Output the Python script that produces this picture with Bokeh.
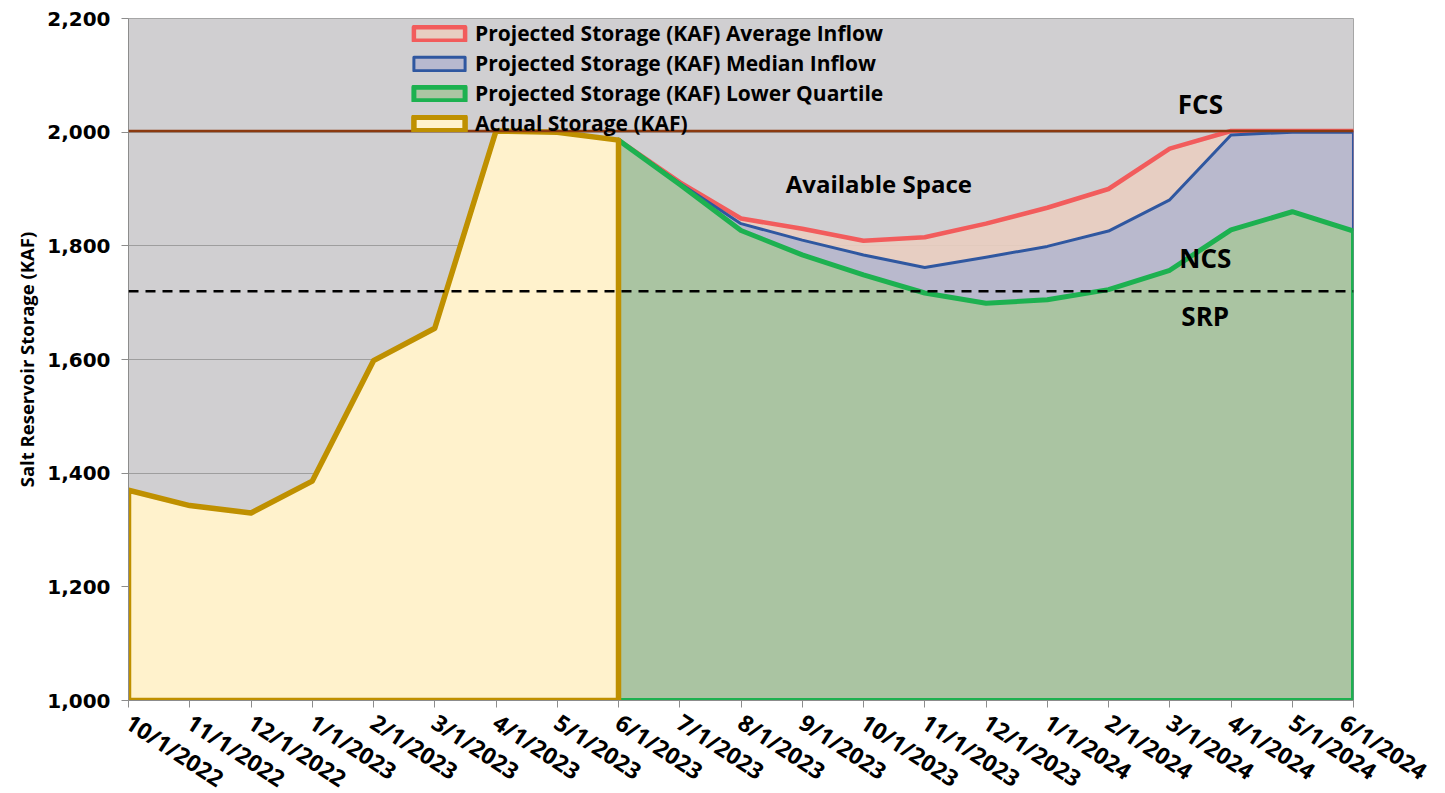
from bokeh.plotting import figure
from bokeh.models import (Range1d, FixedTicker, NumeralTickFormatter, Legend, LegendItem,
                          Span, Label)
from bokeh.embed import file_html
from bokeh.resources import INLINE

# ---------------- data ----------------
dates = ["10/1/2022", "11/1/2022", "12/1/2022", "1/1/2023", "2/1/2023", "3/1/2023",
         "4/1/2023", "5/1/2023", "6/1/2023", "7/1/2023", "8/1/2023", "9/1/2023",
         "10/1/2023", "11/1/2023", "12/1/2023", "1/1/2024", "2/1/2024", "3/1/2024",
         "4/1/2024", "5/1/2024", "6/1/2024"]

# Actual storage, 10/1/2022 .. 6/1/2023
actual_storage = [1370, 1343, 1330, 1386, 1598, 1655, 2002, 2000, 1986]
# Projections, 6/1/2023 .. 6/1/2024
proj_average = [1986, 1912, 1848, 1830, 1809, 1815, 1839, 1867, 1900, 1971, 2002, 2002, 2002]
proj_median = [1986, 1910, 1839, 1810, 1784, 1762, 1780, 1799, 1826, 1881, 1995, 2000, 2000]
proj_lower = [1986, 1908, 1827, 1784, 1749, 1717, 1699, 1705, 1723, 1757, 1828, 1860, 1826]

fcs_level = 2002
srp_level = 1720
y_ticks = [1000, 1200, 1400, 1600, 1800, 2000, 2200]
base = 1000

actual_x = list(range(0, len(actual_storage)))
proj_start = len(actual_storage) - 1
proj_x = list(range(proj_start, proj_start + len(proj_average)))

FONT = "Open Sans"

p = figure(frame_width=1225, frame_height=682, output_backend="svg", toolbar_location=None,
           x_range=Range1d(0, len(dates) - 1), y_range=Range1d(1000, 2200),
           min_border_left=128, min_border_top=18, min_border_right=80, min_border_bottom=80)
p.background_fill_color = "#D0CFD1"
p.border_fill_color = "white"
p.outline_line_color = "#A6A6A6"

p.xgrid.visible = False
p.ygrid.grid_line_color = "#9E9E9E"
p.ygrid.grid_line_width = 1
p.ygrid.ticker = FixedTicker(ticks=y_ticks)


def closed(xs, ys):
    return [xs[0]] + xs + [xs[-1]], [base] + ys + [base]


series = [
    ("Projected Storage (KAF) Average Inflow", proj_x, proj_average, "#E8CEC0", "#F25C5C", 4.5, 0.92),
    ("Projected Storage (KAF) Median Inflow", proj_x, proj_median, "#B5B7CE", "#2F57A0", 3.0, 0.92),
    ("Projected Storage (KAF) Lower Quartile", proj_x, proj_lower, "#A8C49E", "#1DB150", 5.0, 0.92),
    ("Actual Storage (KAF)", actual_x, actual_storage, "#FFF2CC", "#BF9000", 5.5, 1.0),
]

items = []
for name, xs, ys, fc, lc, lw, fa in series:
    px, py = closed(xs, ys)
    r = p.patch(px, py, fill_color=fc, fill_alpha=fa, line_color=lc, line_width=lw,
                line_join="round")
    items.append(LegendItem(label=name, renderers=[r]))

p.add_layout(Span(location=fcs_level, dimension="width", line_color="#8B3A10", line_width=2.5))
p.add_layout(Span(location=srp_level, dimension="width", line_color="black", line_width=2.5,
                  line_dash="10 7"))

legend = Legend(items=items, location=(279, 563), background_fill_alpha=0, border_line_alpha=0,
                padding=0, margin=0, spacing=2, glyph_width=64, glyph_height=17, label_height=20,
                label_standoff=4, label_text_font=FONT, label_text_font_style="bold",
                label_text_font_size="21px", label_text_color="black")
p.add_layout(legend)

for txt, x, y, size in [("FCS", 17.5, 2050, "26px"), ("NCS", 17.58, 1779, "26px"),
                        ("SRP", 17.58, 1676, "26px"), ("Available Space", 12.25, 1910, "24px")]:
    p.add_layout(Label(x=x, y=y, text=txt, text_align="center", text_baseline="middle",
                       text_font=FONT, text_font_style="bold", text_font_size=size,
                       text_color="black"))

# axes
p.yaxis.ticker = FixedTicker(ticks=y_ticks)
p.yaxis.formatter = NumeralTickFormatter(format="0,0")
p.yaxis.major_label_text_font = "DejaVu Sans"
p.yaxis.major_label_text_font_style = "bold"
p.yaxis.major_label_text_font_size = "20px"
p.yaxis.major_label_text_color = "black"
p.yaxis.major_label_standoff = 11
p.yaxis.axis_label = "Salt Reservoir Storage (KAF)"
p.yaxis.axis_label_text_font = FONT
p.yaxis.axis_label_text_font_style = "bold"
p.yaxis.axis_label_text_font_size = "18.5px"
p.yaxis.axis_label_text_color = "black"
p.yaxis.axis_label_standoff = 5
p.yaxis.minor_tick_line_color = None
p.yaxis.major_tick_out = 7
p.yaxis.major_tick_in = 0
p.yaxis.axis_line_color = "#8C8C8C"
p.yaxis.major_tick_line_color = "#8C8C8C"

p.xaxis.ticker = FixedTicker(ticks=list(range(len(dates))))
p.xaxis.major_label_overrides = {i: d for i, d in enumerate(dates)}
p.xaxis.major_label_orientation = -0.58
p.xaxis.major_label_text_font = FONT
p.xaxis.major_label_text_font_style = "bold"
p.xaxis.major_label_text_font_size = "23px"
p.xaxis.major_label_text_color = "black"
p.xaxis.major_label_standoff = 12
p.xaxis.minor_tick_line_color = None
p.xaxis.major_tick_out = 7
p.xaxis.major_tick_in = 0
p.xaxis.axis_line_color = "#8C8C8C"
p.xaxis.major_tick_line_color = "#8C8C8C"

open("out.html", "w").write(file_html(p, INLINE))
